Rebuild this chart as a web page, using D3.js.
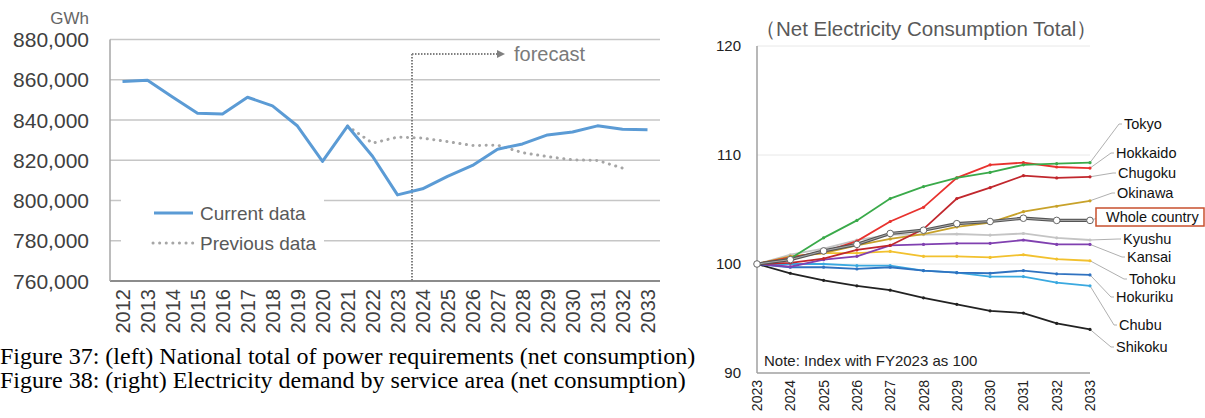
<!DOCTYPE html>
<meta charset="utf-8">
<style>
body { margin: 0; background: #fff; }
svg { display: block; }
text { font-family: "Liberation Sans", Arial, sans-serif; }
.cap { font-family: "Liberation Serif", "Times New Roman", serif; font-size: 24px; fill: #000; }
</style>
<svg width="1205" height="418"></svg>
<script src="https://d3js.org/d3.v7.min.js"></script>
<script>

// ---- left chart data (GWh)
var years = [2012, 2013, 2014, 2015, 2016, 2017, 2018, 2019, 2020, 2021, 2022,
             2023, 2024, 2025, 2026, 2027, 2028, 2029, 2030, 2031, 2032, 2033];
var current = [859100, 859700, 851400, 843400, 843000, 851300, 847000, 837000, 819400, 837000, 822000,
               802800, 805800, 812000, 817400, 825500, 828100, 832600, 834000, 837100, 835400, 835100];
var previous = [null, null, null, null, null, null, null, null, null, 837000, 828500,
                831500, 831000, 829300, 827300, 827500, 823800, 821800, 820200, 819900, 816100, null];
var gwhTicks = [760000, 780000, 800000, 820000, 840000, 860000, 880000];

// ---- right chart data (index, FY2023 = 100)
var idxYears = [2023, 2024, 2025, 2026, 2027, 2028, 2029, 2030, 2031, 2032, 2033];
var tokyo    = [100, 100.5, 102.4, 104.0, 106.0, 107.1, 107.9, 108.4, 109.1, 109.2, 109.3];
var hokkaido = [100, 100.6, 101.1, 102.1, 103.9, 105.2, 107.9, 109.1, 109.3, 108.9, 108.8];
var chugoku  = [100, 100.1, 100.5, 101.3, 101.7, 103.2, 106.0, 107.0, 108.1, 107.9, 108.0];
var okinawa  = [100, 100.7, 101.0, 101.7, 102.3, 102.75, 103.4, 103.8, 104.8, 105.3, 105.8];
var whole    = [100, 100.4, 101.2, 101.8, 102.8, 103.1, 103.7, 103.9, 104.2, 104.0, 104.0];
var kyushu   = [100, 100.85, 101.4, 102.2, 102.7, 102.7, 102.75, 102.65, 102.8, 102.4, 102.2];
var kansai   = [100, 99.75, 100.4, 100.7, 101.7, 101.8, 101.9, 101.9, 102.2, 101.8, 101.8];
var tohoku   = [100, 100.6, 101.0, 101.0, 101.15, 100.7, 100.7, 100.6, 100.85, 100.45, 100.3];
var hokuriku = [100, 99.7, 99.7, 99.55, 99.7, 99.4, 99.2, 99.15, 99.4, 99.1, 99.0];
var chubu    = [100, 100.0, 100.0, 99.85, 99.85, 99.4, 99.2, 98.85, 98.85, 98.3, 98.0];
var shikoku  = [100, 99.15, 98.5, 98.0, 97.6, 96.9, 96.3, 95.7, 95.5, 94.55, 94.0];
var idxTicks = [90, 100, 110, 120];

var svg = d3.select("svg");

// =================== left chart
var x = d3.scaleBand().domain(years).range([110, 660]);
var y = d3.scaleLinear().domain([760000, 880000]).range([281, 39.5]);
var cx = function(yr) { return x(yr) + x.bandwidth() / 2; };

var left = svg.append("g");

left.selectAll(".grid").data(gwhTicks.slice(1)).enter().append("line")
    .attr("x1", 110).attr("x2", 660)
    .attr("y1", function(d) { return y(d); }).attr("y2", function(d) { return y(d); })
    .attr("stroke", "#c6c6c6").attr("stroke-width", 1.5);

left.append("line").attr("x1", 110).attr("x2", 660).attr("y1", y(760000)).attr("y2", y(760000))
    .attr("stroke", "#8c8c8c").attr("stroke-width", 2);
left.append("line").attr("x1", 110).attr("x2", 110).attr("y1", y(880000)).attr("y2", y(760000))
    .attr("stroke", "#a6a6a6").attr("stroke-width", 1.5);

left.selectAll(".yl").data(gwhTicks).enter().append("text")
    .attr("x", 89).attr("y", function(d) { return y(d); })
    .attr("dy", "0.36em").attr("text-anchor", "end")
    .attr("font-size", 21).attr("fill", "#404040")
    .text(d3.format(","));

left.append("text").attr("x", 89).attr("y", 24).attr("text-anchor", "end")
    .attr("font-size", 17).attr("fill", "#666").text("GWh");

left.selectAll(".xl").data(years).enter().append("text")
    .attr("transform", function(d) { return "translate(" + (cx(d) + 7) + ",289) rotate(-90)"; })
    .attr("text-anchor", "end")
    .attr("font-size", 20).attr("fill", "#404040")
    .text(function(d) { return d; });

// legend box (covers grid)
left.append("rect").attr("x", 121).attr("y", 192).attr("width", 203).attr("height", 68).attr("fill", "#fff");

// forecast marker
var fx = x(2024) + 2;
left.append("line").attr("x1", fx).attr("x2", fx).attr("y1", 54).attr("y2", y(760000))
    .attr("stroke", "#808080").attr("stroke-width", 2).attr("stroke-dasharray", "1.5,1.5");
left.append("line").attr("x1", fx).attr("x2", 497).attr("y1", 54).attr("y2", 54)
    .attr("stroke", "#808080").attr("stroke-width", 2).attr("stroke-dasharray", "1.5,1.5");
left.append("path").attr("d", "M497,50L505,54L497,58Z").attr("fill", "#808080");
left.append("text").attr("x", 514).attr("y", 61).attr("font-size", 20).attr("fill", "#7a7a7a").text("forecast");

var lineL = d3.line()
    .defined(function(d) { return d[1] != null; })
    .x(function(d) { return cx(d[0]); })
    .y(function(d) { return y(d[1]); });

left.append("path").datum(d3.zip(years, previous)).attr("d", lineL)
    .attr("fill", "none").attr("stroke", "#a6a6a6").attr("stroke-width", 3)
    .attr("stroke-linecap", "round").attr("stroke-dasharray", "0.1,6.5");

left.append("path").datum(d3.zip(years, current)).attr("d", lineL)
    .attr("fill", "none").attr("stroke", "#5b9bd5").attr("stroke-width", 3)
    .attr("stroke-linejoin", "round");

left.append("line").attr("x1", 154).attr("x2", 193).attr("y1", 213).attr("y2", 213)
    .attr("stroke", "#5b9bd5").attr("stroke-width", 3);
left.append("text").attr("x", 200).attr("y", 220).attr("font-size", 19).attr("fill", "#595959").text("Current data");
left.append("line").attr("x1", 153).attr("x2", 194).attr("y1", 243).attr("y2", 243)
    .attr("stroke", "#a6a6a6").attr("stroke-width", 3)
    .attr("stroke-linecap", "round").attr("stroke-dasharray", "0.1,6.5");
left.append("text").attr("x", 200).attr("y", 250).attr("font-size", 19).attr("fill", "#595959").text("Previous data");

// captions
svg.append("text").attr("class", "cap").attr("x", 0).attr("y", 364)
    .text("Figure 37: (left) National total of power requirements (net consumption)");
svg.append("text").attr("class", "cap").attr("x", 0).attr("y", 388)
    .text("Figure 38: (right) Electricity demand by service area (net consumption)");

// =================== right chart
var x2 = d3.scaleLinear().domain([2023, 2033]).range([757, 1090]);
var y2 = d3.scaleLinear().domain([90, 120]).range([373, 46]);

var right = svg.append("g");

right.append("text").attr("x", 755).attr("y", 36)
    .attr("font-family", "'Noto Sans CJK JP', 'Noto Sans', sans-serif")
    .attr("font-size", 20.5).attr("fill", "#595959")
    .text("（Net Electricity Consumption Total）");

right.selectAll(".grid").data([100, 110, 120]).enter().append("line")
    .attr("x1", 757).attr("x2", 1090)
    .attr("y1", function(d) { return y2(d); }).attr("y2", function(d) { return y2(d); })
    .attr("stroke", "#e8e8e8").attr("stroke-width", 1);
right.append("line").attr("x1", 757).attr("x2", 1090).attr("y1", y2(90)).attr("y2", y2(90))
    .attr("stroke", "#a0a0a0").attr("stroke-width", 1.5);
right.append("line").attr("x1", 757).attr("x2", 757).attr("y1", y2(120)).attr("y2", y2(90))
    .attr("stroke", "#a0a0a0").attr("stroke-width", 1.5);

right.selectAll(".yl").data(idxTicks).enter().append("text")
    .attr("x", 741).attr("y", function(d) { return y2(d); })
    .attr("dy", "0.36em").attr("text-anchor", "end")
    .attr("font-size", 15).attr("fill", "#222")
    .text(function(d) { return d; });

right.selectAll(".xl").data(idxYears).enter().append("text")
    .attr("transform", function(d) { return "translate(" + (x2(d) + 5) + ",380) rotate(-90)"; })
    .attr("text-anchor", "end")
    .attr("font-size", 14).attr("fill", "#222")
    .text(function(d) { return d; });

right.append("text").attr("x", 764).attr("y", 366).attr("font-size", 15).attr("fill", "#222")
    .text("Note: Index with FY2023 as 100");

var series = [
  { name: "Kyushu",   values: kyushu,   color: "#c4c4c4", lx: 1123, ly: 239 },
  { name: "Shikoku",  values: shikoku,  color: "#222222", lx: 1116, ly: 347 },
  { name: "Chubu",    values: chubu,    color: "#3aa9e0", lx: 1119, ly: 325 },
  { name: "Hokuriku", values: hokuriku, color: "#2f72c0", lx: 1116, ly: 297 },
  { name: "Tohoku",   values: tohoku,   color: "#f2c12e", lx: 1129, ly: 279 },
  { name: "Kansai",   values: kansai,   color: "#8040b0", lx: 1127, ly: 257 },
  { name: "Okinawa",  values: okinawa,  color: "#c8a22a", lx: 1117, ly: 193 },
  { name: "Chugoku",  values: chugoku,  color: "#c1272d", lx: 1118, ly: 173 },
  { name: "Hokkaido", values: hokkaido, color: "#e8322e", lx: 1116, ly: 153 },
  { name: "Tokyo",    values: tokyo,    color: "#3aaa4a", lx: 1124, ly: 124 }
];

var lineR = d3.line()
    .x(function(d) { return x2(d[0]); })
    .y(function(d) { return y2(d[1]); });

// leader lines
series.concat([{ name: "Whole country", values: whole, lx: 1106, ly: 217 }]).forEach(function(s) {
  var ex = x2(2033), ey = y2(s.values[s.values.length - 1]);
  right.append("polyline")
      .attr("points", [[ex, ey], [s.lx - 5, s.ly], [s.lx - 2, s.ly]].join(" "))
      .attr("fill", "none").attr("stroke", "#b0b0b0").attr("stroke-width", 1);
});

series.forEach(function(s) {
  var pts = d3.zip(idxYears, s.values);
  right.append("path").datum(pts).attr("d", lineR)
      .attr("fill", "none").attr("stroke", s.color).attr("stroke-width", 1.8);
  right.selectAll(null).data(pts).enter().append("circle")
      .attr("cx", function(d) { return x2(d[0]); }).attr("cy", function(d) { return y2(d[1]); })
      .attr("r", 1.6).attr("fill", s.color);
  right.append("text").attr("x", s.lx).attr("y", s.ly).attr("dy", "0.36em")
      .attr("font-size", 14.5).attr("fill", "#111").text(s.name);
});

// whole country
var wpts = d3.zip(idxYears, whole);
right.append("path").datum(wpts).attr("d", lineR)
    .attr("fill", "none").attr("stroke", "#555").attr("stroke-width", 3.2);
right.append("path").datum(wpts).attr("d", lineR)
    .attr("fill", "none").attr("stroke", "#aaa").attr("stroke-width", 1);
right.selectAll(".wc").data(wpts).enter().append("circle")
    .attr("cx", function(d) { return x2(d[0]); }).attr("cy", function(d) { return y2(d[1]); })
    .attr("r", 3.3).attr("fill", "#fff").attr("stroke", "#666").attr("stroke-width", 1);

right.append("rect").attr("x", 1096).attr("y", 208).attr("width", 108).attr("height", 18)
    .attr("fill", "#fff").attr("stroke", "#c8502e").attr("stroke-width", 1.5);
right.append("text").attr("x", 1106).attr("y", 217).attr("dy", "0.36em")
    .attr("font-size", 14.5).attr("fill", "#111").text("Whole country");

</script>
